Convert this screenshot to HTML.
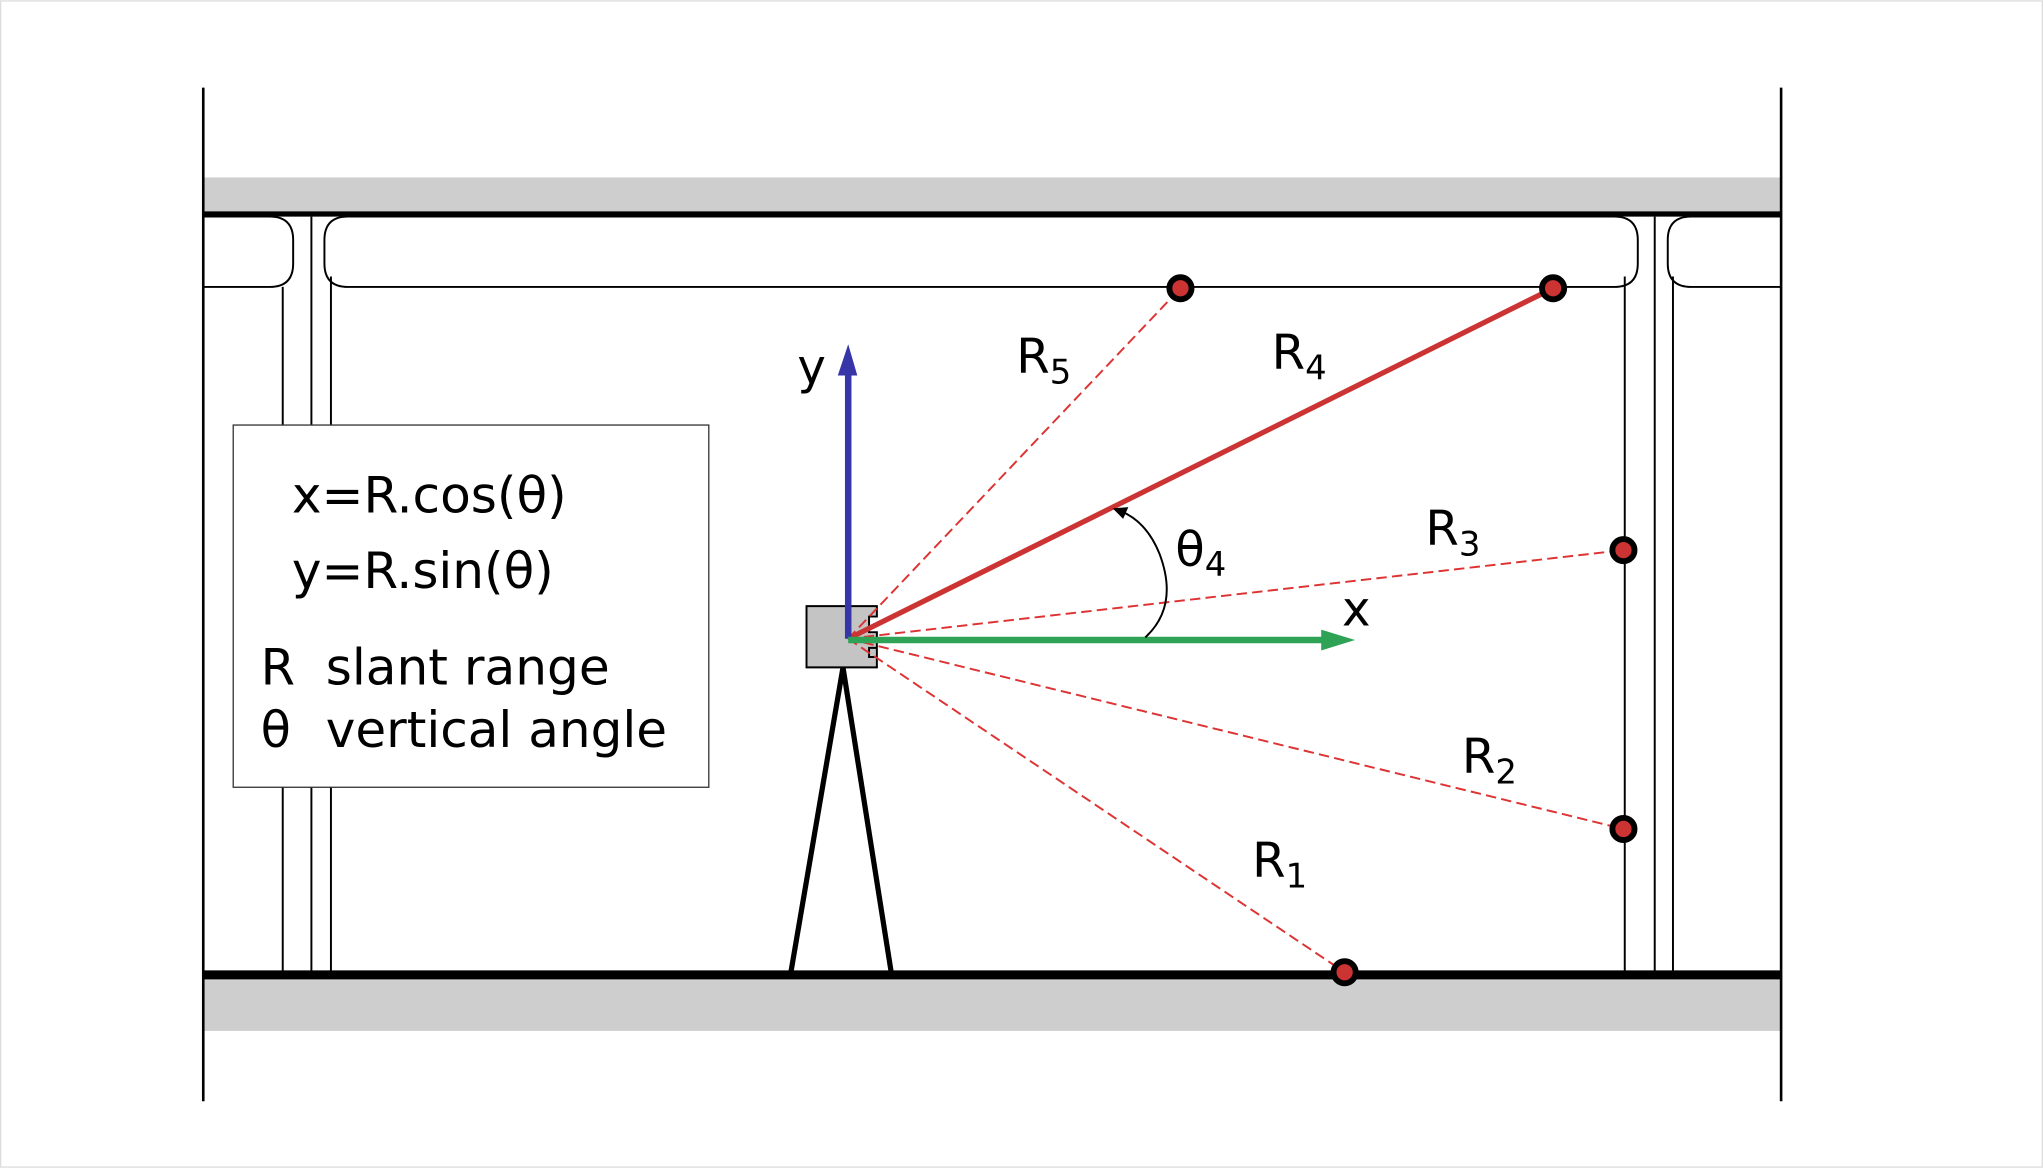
<!DOCTYPE html>
<html><head><style>html,body{margin:0;padding:0;background:#fff}svg{display:block}</style></head><body>
<svg width="2043" height="1168" viewBox="0 0 1568 896" xmlns="http://www.w3.org/2000/svg" font-family="DejaVu Sans, Liberation Sans, sans-serif">
<rect x="0.5" y="0.5" width="1567" height="895" fill="#fff" stroke="#ddd"/>
<rect x="156" y="136" width="1211" height="27" fill="#cecece"/>
<rect x="156" y="752" width="1211" height="39" fill="#cecece"/>
<line x1="156" y1="67" x2="156" y2="845" stroke="#000" stroke-width="2"/>
<line x1="1367" y1="67" x2="1367" y2="845" stroke="#000" stroke-width="2"/>
<g fill="none" stroke="#000" stroke-width="1.5">
<path d="M156 166 H207 Q225 166 225 184 V202 Q225 220 207 220 H156"/>
<path d="M1367 166 H1298 Q1280 166 1280 184 V202 Q1280 220 1298 220 H1367"/>
<path d="M267 166 H1239 Q1257 166 1257 184 V202 Q1257 220 1239 220 H267 Q249 220 249 202 V184 Q249 166 267 166 Z"/>
<line x1="217" y1="220" x2="217" y2="746"/>
<line x1="239" y1="166" x2="239" y2="746"/>
<line x1="254" y1="212" x2="254" y2="746"/>
<line x1="1247" y1="212" x2="1247" y2="746"/>
<line x1="1270" y1="166" x2="1270" y2="746"/>
<line x1="1284" y1="212" x2="1284" y2="746"/>
</g>
<line x1="156" y1="164" x2="1367" y2="164" stroke="#000" stroke-width="4"/>
<line x1="156" y1="748" x2="1367" y2="748" stroke="#000" stroke-width="7"/>
<rect x="179" y="326" width="365" height="278" fill="#fff" stroke="#333" stroke-width="1"/>
<g font-size="38" fill="#000">
<text x="224" y="393" textLength="211" lengthAdjust="spacingAndGlyphs">x=R.cos(θ)</text>
<text x="224" y="451" textLength="201" lengthAdjust="spacingAndGlyphs">y=R.sin(θ)</text>
<text x="200" y="525">R</text>
<text x="250" y="525" textLength="218" lengthAdjust="spacingAndGlyphs">slant range</text>
<text x="200" y="573">θ</text>
<text x="250" y="573" textLength="262" lengthAdjust="spacingAndGlyphs">vertical angle</text>
</g>
<path d="M607 746 L647 512 L684 746" fill="none" stroke="#000" stroke-width="4"/>
<path d="M619 465 H673 V473 H667 V485 H673 V504 H667 V497 H673 V512 H619 Z" fill="#c4c4c4" stroke="#000" stroke-width="1.5"/>
<g stroke="#d33" stroke-width="1.5" stroke-dasharray="8,4" fill="none">
<line x1="651" y1="490" x2="906" y2="221"/>
<line x1="651" y1="490" x2="1246" y2="422"/>
<line x1="651" y1="490" x2="1246" y2="636"/>
<line x1="651" y1="490" x2="1032" y2="746"/>
</g>
<line x1="651" y1="490" x2="1192" y2="221" stroke="#c33" stroke-width="4"/>
<line x1="651" y1="490" x2="651" y2="285" stroke="#3636a8" stroke-width="5"/>
<path d="M643 288 L651 264 L658 288 Z" fill="#3636a8"/>
<line x1="651" y1="491" x2="1018" y2="491" stroke="#2fa355" stroke-width="5"/>
<path d="M1014 483 L1040 491 L1014 499 Z" fill="#2fa355"/>
<path d="M879 489 Q905 465 890 425 Q880 400 860 392" fill="none" stroke="#000" stroke-width="1.5"/>
<path d="M854 390 L866 389 L862 398 Z" fill="#000"/>
<g fill="#cc3333" stroke="#000" stroke-width="4.5">
<circle cx="906" cy="221" r="8.5"/>
<circle cx="1192" cy="221" r="8.5"/>
<circle cx="1246" cy="422" r="8.5"/>
<circle cx="1246" cy="636" r="8.5"/>
<circle cx="1032" cy="746" r="8.5"/>
</g>
<g font-size="37" fill="#000">
<text x="612" y="294">y</text>
<text x="1030" y="480">x</text>
<text x="780" y="286">R<tspan font-size="26" dy="8">5</tspan></text>
<text x="976" y="283">R<tspan font-size="26" dy="8">4</tspan></text>
<text x="1094" y="418">R<tspan font-size="26" dy="8">3</tspan></text>
<text x="1122" y="593">R<tspan font-size="26" dy="8">2</tspan></text>
<text x="961" y="673">R<tspan font-size="26" dy="8">1</tspan></text>
<text x="902" y="434">θ<tspan font-size="26" dy="8">4</tspan></text>
</g>
</svg>
</body></html>
